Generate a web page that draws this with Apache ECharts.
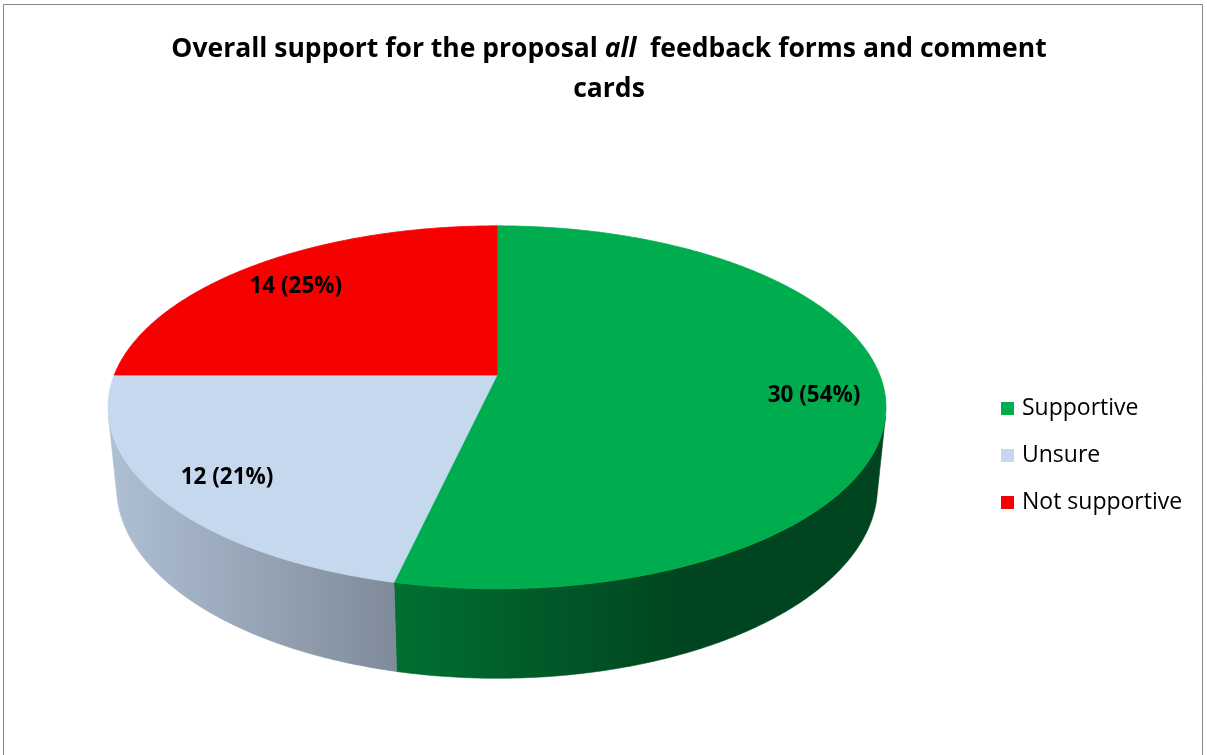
<!DOCTYPE html>
<html>
<head>
<meta charset="utf-8">
<script src="https://cdn.jsdelivr.net/npm/echarts@6/dist/echarts.min.js"></script>
<style>
  html, body { margin: 0; padding: 0; background: #fff; }
  #chart { width: 1207px; height: 755px; }
</style>
</head>
<body>
<div id="chart"></div>
<script>
// Feedback responses
const categories = ['Supportive', 'Unsure', 'Not supportive'];
const counts = [30, 12, 14];
const sliceColors = ['#00AD4E', '#C5D8EE', '#F80000'];

// ---- 3D pie camera ----
const CX = 497, CY = 375;           // projected centre of the top face
const F = 1910, DIST = 4.99;        // focal length / camera distance (disc radius = 1)
const SA = 0.459, CA = 0.888;       // sin / cos of the tilt
const THICK = 0.236;                // disc thickness
const LABEL_R = 0.82, LABEL_DY = 4;

function project(X, Y, Z) {
  const yc = Y * SA + Z * CA;
  const zc = DIST + Y * CA - Z * SA;
  return [CX + F * X / zc, CY - F * yc / zc];
}
function rim(deg, Z, r) {
  const a = deg * Math.PI / 180;
  r = r == null ? 1 : r;
  return project(r * Math.sin(a), r * Math.cos(a), Z);
}
function arcPoints(a0, a1, Z) {
  const n = Math.max(2, Math.ceil(Math.abs(a1 - a0) / 0.5));
  const pts = [];
  for (let k = 0; k <= n; k++) pts.push(rim(a0 + (a1 - a0) * k / n, Z));
  return pts;
}
// visible part of the outer wall: cos(phi) < -1 / (DIST * CA)
const wallLimit = Math.acos(-1 / (DIST * CA)) * 180 / Math.PI;
const wallFrom = wallLimit, wallTo = 360 - wallLimit;

// horizontal extent of the pie for the wall shading
let pieLeft = Infinity, pieRight = -Infinity;
for (let d = 0; d < 360; d += 0.5) {
  const p = rim(d, 0), q = rim(d, -THICK);
  pieLeft = Math.min(pieLeft, p[0], q[0]);
  pieRight = Math.max(pieRight, p[0], q[0]);
}
const shadeStops = [[0, 0.89], [0.74, 0.40], [1, 0.40]];

function scaleColor(hex, f) {
  const n = parseInt(hex.slice(1), 16);
  const c = [(n >> 16) & 255, (n >> 8) & 255, n & 255].map(v => Math.round(v * f));
  return 'rgb(' + c.join(',') + ')';
}

const total = counts.reduce((a, b) => a + b, 0);
let acc = 0;
const spans = counts.map(v => {
  const s = acc / total;
  acc += v;
  return [s, acc / total, v];
});

function renderSlice(params, api) {
  const a0 = api.value(0) * 360, a1 = api.value(1) * 360, v = api.value(2);
  const color = sliceColors[params.seriesIndex];
  const children = [];

  // outer wall
  const w0 = Math.max(a0, wallFrom), w1 = Math.min(a1, wallTo);
  if (w1 > w0) {
    const top = arcPoints(w0, w1, 0);
    const bottom = arcPoints(w0, w1, -THICK).reverse();
    const grad = new echarts.graphic.LinearGradient(pieLeft, 0, pieRight, 0,
      shadeStops.map(s => ({ offset: s[0], color: scaleColor(color, s[1]) })), true);
    children.push({
      type: 'polygon', z2: 1,
      shape: { points: top.concat(bottom) },
      style: { fill: grad, stroke: grad, lineWidth: 0.6 }
    });
  }

  // top face
  const face = [project(0, 0, 0)].concat(arcPoints(a0, a1, 0));
  children.push({
    type: 'polygon', z2: 10,
    shape: { points: face },
    style: { fill: color, stroke: color, lineWidth: 0.8 }
  });

  // value label
  const mid = (a0 + a1) / 2;
  const lp = rim(mid, 0, LABEL_R);
  children.push({
    type: 'text', z2: 20, x: lp[0], y: lp[1] + LABEL_DY,
    style: {
      text: v + ' (' + Math.round(v / total * 100) + '%)',
      fill: '#000', font: 'bold 22.5px "Open Sans"',
      align: 'center', verticalAlign: 'middle'
    }
  });
  return { type: 'group', children };
}

const chart = echarts.init(document.getElementById('chart'), null, { renderer: 'canvas' });
chart.setOption({
  animation: false,
  color: sliceColors,
  title: {
    left: 604, top: 24,
    padding: 5,
    textAlign: 'center',
    text: '{b|Overall support for the proposal }{i|all}{b|  feedback forms and comment}\n{b|cards}',
    textStyle: {
      rich: {
        b: { fontFamily: 'Open Sans', fontWeight: 'bold', fontSize: 26.5, lineHeight: 40, color: '#000' },
        i: { fontFamily: 'Open Sans', fontWeight: 'bold', fontStyle: 'italic', fontSize: 26.5, lineHeight: 40, color: '#000' }
      }
    }
  },
  legend: {
    orient: 'vertical', left: 996, top: 392,
    icon: 'rect', itemWidth: 13, itemHeight: 13, itemGap: 24,
    data: categories,
    textStyle: { fontFamily: 'Open Sans', fontSize: 23, color: '#000', lineHeight: 23, padding: [0, 0, 0, 3] }
  },
  graphic: [{
    type: 'rect', silent: true,
    shape: { x: 3.5, y: 4.5, width: 1199, height: 800 },
    style: { fill: 'none', stroke: '#878787', lineWidth: 1 }
  }],
  series: categories.map((name, i) => ({
    type: 'custom', name, coordinateSystem: 'none', silent: true,
    itemStyle: { color: sliceColors[i] },
    data: [spans[i]],
    renderItem: renderSlice
  }))
});
</script>
</body>
</html>
